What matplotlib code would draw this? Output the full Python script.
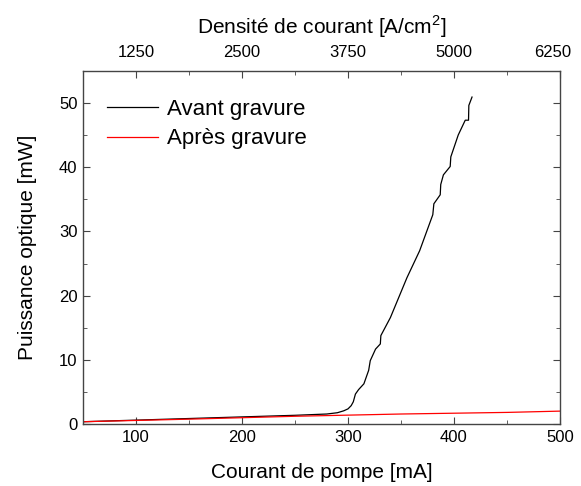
import matplotlib
matplotlib.use('Agg')
import matplotlib.pyplot as plt
from matplotlib.ticker import MultipleLocator, FuncFormatter

plt.rcParams['font.family'] = ['Liberation Sans', 'DejaVu Sans']

# courant (mA) et puissance (mW)
i_avant = [50, 100, 150, 200, 250, 280, 290, 296, 300, 303, 305, 307, 310, 315, 319.5,
           321, 326, 330.5, 331, 340, 355.6, 367.6, 380, 381, 387, 387.5, 390, 396.4,
           397, 404, 410.6, 413.7, 414, 417]
p_avant = [0.4, 0.65, 0.9, 1.15, 1.4, 1.6, 1.8, 2.1, 2.4, 2.9, 3.5, 4.7, 5.4, 6.3, 8.4,
           9.9, 11.7, 12.5, 13.8, 16.6, 22.8, 27.0, 32.6, 34.3, 35.7, 37.3, 38.8, 40.1,
           41.6, 45.0, 47.3, 47.3, 49.6, 50.9]
i_apres = [50, 150, 250, 350, 450, 500]
p_apres = [0.4, 0.8, 1.25, 1.6, 1.85, 2.05]

J_PAR_MA = 12.5  # A/cm2 par mA
J_MAX = 6250

fig = plt.figure(figsize=(5.81, 4.86), dpi=100)
ax = fig.add_axes([83/581, 1-424.3/486, 477/581, 353.6/486])

ax.plot(i_avant, p_avant, color='black', lw=0.9, label='Avant gravure')
ax.plot(i_apres, p_apres, color='red', lw=0.9, label='Après gravure')

ax.set_xlim(50, J_MAX / J_PAR_MA)
ax.set_ylim(0, 55)
ax.xaxis.set_major_locator(MultipleLocator(100))
ax.xaxis.set_minor_locator(MultipleLocator(50))
ax.yaxis.set_major_locator(MultipleLocator(10))
ax.yaxis.set_minor_locator(MultipleLocator(5))
ax.tick_params(which='both', direction='out', labelsize=12, color='#444444')
ax.tick_params(axis='x', which='major', length=5, pad=4)
ax.tick_params(axis='y', which='major', length=5, pad=4)
ax.tick_params(which='minor', length=3)
ax.tick_params(right=True, which='both', direction='in')
for s in ax.spines.values():
    s.set_color('#444444')
    s.set_linewidth(1.0)

ax.set_xlabel('Courant de pompe [mA]', fontsize=15, labelpad=13)
ax.set_ylabel('Puissance optique [mW]', fontsize=15, labelpad=16)

top = ax.secondary_xaxis('top', functions=(lambda x: x * J_PAR_MA, lambda x: x / J_PAR_MA))
top.xaxis.set_major_locator(MultipleLocator(1250))
top.xaxis.set_minor_locator(MultipleLocator(625))
# le dernier label (6250) est pose a part, un peu decale pour rester dans l'image
top.xaxis.set_major_formatter(FuncFormatter(lambda v, p: '' if abs(v - J_MAX) < 1 else f'{v:.0f}'))
top.tick_params(which='both', direction='in', labelsize=12, color='#444444', pad=8)
top.tick_params(which='major', length=5)
top.tick_params(which='minor', length=3)
top.spines['top'].set_visible(False)
top.set_xlabel('Densité de courant [A/cm$^{\\mathregular{2}}$]', fontsize=15, labelpad=8)
ax.annotate(f'{J_MAX}', xy=(1, 1), xycoords='axes fraction', xytext=(-5, 8),
            textcoords='offset points', ha='center', va='bottom', fontsize=12)

ax.legend(loc='upper left', bbox_to_anchor=(0.05, 0.92), frameon=False, fontsize=16,
          handlelength=2.3, handletextpad=0.4, labelspacing=0.38, borderpad=0,
          borderaxespad=0)

fig.savefig('out.png', dpi=100)
